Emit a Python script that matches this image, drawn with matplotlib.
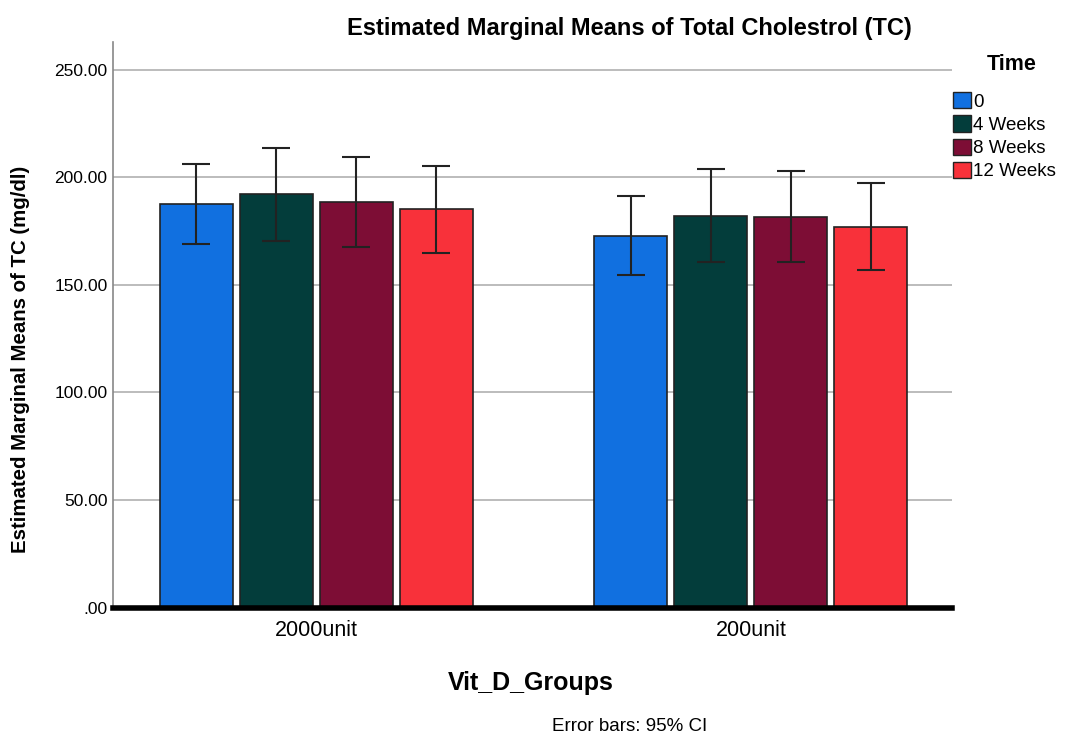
import numpy as np
import matplotlib
matplotlib.use("Agg")
import matplotlib.pyplot as plt
from matplotlib.patches import Patch
from matplotlib.ticker import FuncFormatter

# data
groups = ["2000unit", "200unit"]
times = ["0", "4 Weeks", "8 Weeks", "12 Weeks"]
colors = ["#1170E0", "#033D3B", "#7D0D35", "#F8313A"]

# means per time point, one value per group
means = {
    "0": [187.7, 172.9],
    "4 Weeks": [192.3, 182.2],
    "8 Weeks": [188.6, 181.8],
    "12 Weeks": [185.2, 177.1],
}
ci_low = {
    "0": [169.1, 154.5],
    "4 Weeks": [170.6, 160.8],
    "8 Weeks": [167.5, 160.8],
    "12 Weeks": [165.0, 157.0],
}
ci_high = {
    "0": [206.1, 191.5],
    "4 Weeks": [213.9, 203.8],
    "8 Weeks": [209.7, 203.2],
    "12 Weeks": [205.3, 197.6],
}

plt.rcParams["font.family"] = ["Liberation Sans", "DejaVu Sans"]

fig = plt.figure(figsize=(10.73, 7.37), dpi=100)
ax = fig.add_axes([0.1053, 0.1757, 0.7817, 0.7673])

x = np.arange(len(groups))
pitch = 0.184
width = 0.168
for i, t in enumerate(times):
    pos = x + (i - 1.5) * pitch
    m = np.array(means[t])
    lo = m - np.array(ci_low[t])
    hi = np.array(ci_high[t]) - m
    ax.bar(pos, m, width, color=colors[i], edgecolor="#222222", linewidth=1.2, zorder=2)
    ax.errorbar(pos, m, yerr=[lo, hi], fmt="none", ecolor="#222222",
                elinewidth=1.5, capsize=10, capthick=1.5, zorder=3)

ax.set_xlim(-0.467, 1.462)
ax.set_ylim(0, 263)
ax.set_yticks([0, 50, 100, 150, 200, 250])
ax.yaxis.set_major_formatter(FuncFormatter(lambda v, p: f"{v:.2f}".lstrip("0") if v < 1 else f"{v:.2f}"))
ax.grid(axis="y", color="#b0b0b0", linewidth=1.2, zorder=0)
ax.set_axisbelow(True)
ax.set_xticks(x)
ax.set_xticklabels(groups)
ax.tick_params(axis="both", length=0)
ax.tick_params(axis="x", pad=9, labelsize=15.5)
ax.tick_params(axis="y", pad=4, labelsize=12.5)

for s in ["top", "right"]:
    ax.spines[s].set_visible(False)
ax.spines["left"].set_color("#888888")
ax.spines["left"].set_linewidth(1.2)
ax.spines["bottom"].set_color("black")
ax.spines["bottom"].set_linewidth(4)

fig.text(0.587, 0.962, "Estimated Marginal Means of Total Cholestrol (TC)",
         ha="center", va="center", fontsize=17, fontweight="bold")
fig.text(0.019, 0.513, "Estimated Marginal Means of TC (mg/dl)", rotation=90,
         ha="center", va="center", fontsize=14.7, fontweight="bold")
fig.text(0.495, 0.073, "Vit_D_Groups", ha="center", va="center",
         fontsize=18, fontweight="bold")
fig.text(0.587, 0.014, "Error bars: 95% CI", ha="center", va="center",
         fontsize=13.5)

fig.text(0.943, 0.912, "Time", ha="center", va="center",
         fontsize=15.5, fontweight="bold")
handles = [Patch(facecolor=c, edgecolor="#222222", label=t) for c, t in zip(colors, times)]
leg = fig.legend(handles=handles, loc="upper left",
                 bbox_to_anchor=(0.888, 0.875), frameon=False,
                 fontsize=13.5, handlelength=0.95, handleheight=0.95,
                 handletextpad=0.15, labelspacing=0.25, borderaxespad=0,
                 borderpad=0)

fig.savefig("out.png", dpi=100)
